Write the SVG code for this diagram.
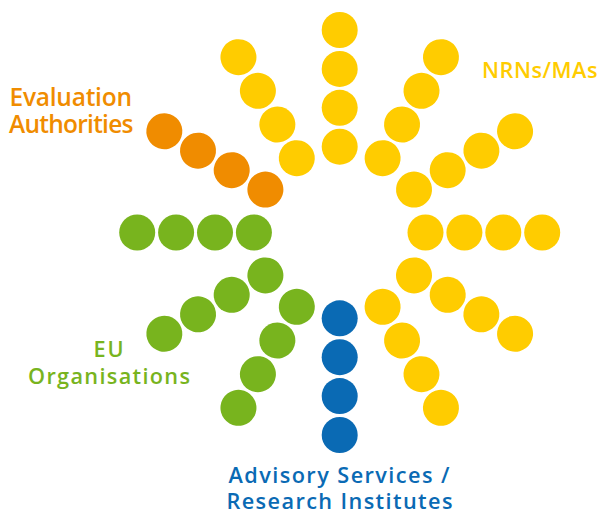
<svg xmlns="http://www.w3.org/2000/svg" width="603" height="511" viewBox="0 0 603 511">
<style>
.y{fill:#FFCC00}.o{fill:#F08C00}.g{fill:#78B41E}.b{fill:#0A6AB4}
text{font-family:"Open Sans","Liberation Sans",sans-serif;font-size:21.7px;font-weight:600}
.big{font-size:24.5px}
</style>
<defs>
<g id="ray"><circle cx="85.8" cy="0" r="18"/><circle cx="124.7" cy="0" r="18"/><circle cx="163.6" cy="0" r="18"/><circle cx="202.5" cy="0" r="18"/></g>
</defs>
<g transform="translate(339.7 232.5)">
<g id="ray-0" class="y"><use href="#ray"/></g>
<g id="ray-30" class="y" transform="rotate(-30)"><use href="#ray"/></g>
<g id="ray-60" class="y" transform="rotate(-60)"><use href="#ray"/></g>
<g id="ray-90" class="y" transform="rotate(-90)"><use href="#ray"/></g>
<g id="ray-120" class="y" transform="rotate(-120)"><use href="#ray"/></g>
<g id="ray-150" class="o" transform="rotate(-150)"><use href="#ray"/></g>
<g id="ray-180" class="g" transform="rotate(-180)"><use href="#ray"/></g>
<g id="ray-210" class="g" transform="rotate(-210)"><use href="#ray"/></g>
<g id="ray-240" class="g" transform="rotate(-240)"><use href="#ray"/></g>
<g id="ray-270" class="b" transform="rotate(-270)"><use href="#ray"/></g>
<g id="ray-300" class="y" transform="rotate(-300)"><use href="#ray"/></g>
<g id="ray-330" class="y" transform="rotate(-330)"><use href="#ray"/></g>
</g>
<g id="connectors"/>
<g id="label-evaluation" class="o"><text class="big" x="9.5" y="106" textLength="122.5" lengthAdjust="spacing">Evaluation</text><text class="big" x="9" y="132.5" textLength="124.5" lengthAdjust="spacing">Authorities</text></g>
<g id="label-nrns" class="y"><text x="482" y="77.7" textLength="115.5" lengthAdjust="spacing">NRNs/MAs</text></g>
<g id="label-eu" class="g"><text x="93.5" y="357.3" textLength="30" lengthAdjust="spacing">EU</text><text x="28" y="384" textLength="162" lengthAdjust="spacing">Organisations</text></g>
<g id="label-advisory" class="b"><text x="228.5" y="483" textLength="221" lengthAdjust="spacing">Advisory Services /</text><text x="226.5" y="508.5" textLength="226" lengthAdjust="spacing">Research Institutes</text></g>
</svg>
